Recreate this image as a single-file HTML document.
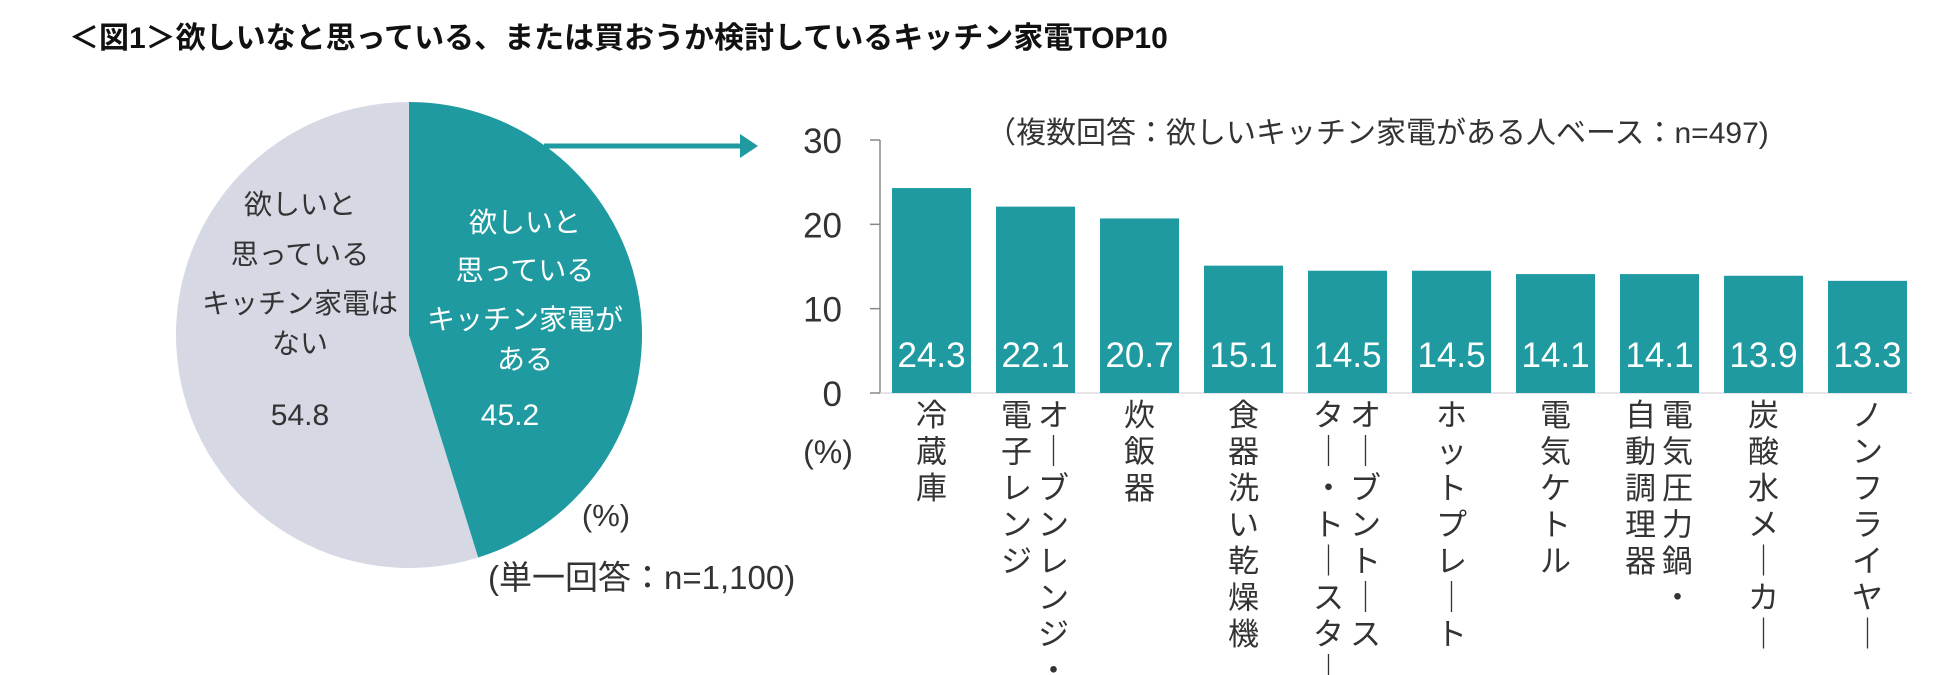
<!DOCTYPE html>
<html><head><meta charset="utf-8">
<style>
html,body{margin:0;padding:0;background:#fff;}
body{width:1950px;height:675px;overflow:hidden;position:relative;font-family:"Liberation Sans","Noto Sans CJK JP",sans-serif;}
svg{position:absolute;left:0;top:0;}
</style></head>
<body>
<svg id="chart" width="1950" height="675" viewBox="0 0 1950 675">
<text x="69" y="48" font-size="30" font-weight="bold" fill="#111" font-family="Liberation Sans, Noto Sans CJK JP, sans-serif">＜図1＞欲しいなと思っている、または買おうか検討しているキッチン家電TOP10</text>
</svg>
<script>
const pieLabels = ["欲しいと思っているキッチン家電はない","欲しいと思っているキッチン家電がある"];
const pieValues = [54.8, 45.2];
const categories = ["冷蔵庫","オーブンレンジ・|電子レンジ","炊飯器","食器洗い乾燥機","オーブントース|ター・トースター","ホットプレート","電気ケトル","電気圧力鍋・|自動調理器","炭酸水メーカー","ノンフライヤー"];
const values = [24.3, 22.1, 20.7, 15.1, 14.5, 14.5, 14.1, 14.1, 13.9, 13.3];
const yTicks = [0, 10, 20, 30];

const NS = "http://www.w3.org/2000/svg";
const svg = document.getElementById("chart");
const FONT = "Liberation Sans, Noto Sans CJK JP, sans-serif";
function mk(tag, attrs, parent){const e=document.createElementNS(NS,tag);for(const k in attrs)e.setAttribute(k,attrs[k]);(parent||svg).appendChild(e);return e;}

// pie
const cx=409, cy=335, r=233;
const total = pieValues[0]+pieValues[1];
const tealFrac = pieValues[1]/total;
const ang = tealFrac*2*Math.PI;
const ex = cx + r*Math.sin(ang), ey = cy - r*Math.cos(ang);
const grey = mk("path",{d:`M${cx},${cy} L${ex},${ey} A${r},${r} 0 ${(1-tealFrac)>0.5?1:0} 1 ${cx},${cy-r} Z`,fill:"#d6d9e4"});


const teal = mk("path",{d:`M${cx},${cy} L${cx},${cy-r} A${r},${r} 0 ${tealFrac>0.5?1:0} 1 ${ex},${ey} Z`,fill:"#1e9aa0"});



function lines(x, ys, arr, fill, name){
  arr.forEach((t,i)=>{const e=mk("text",{x:x,y:ys[i],"font-size":28,fill:fill,"text-anchor":"middle","font-family":FONT});e.textContent=t;
  
  });
}
lines(300,[214,264,313,353],["欲しいと","思っている","キッチン家電は","ない"],"#333","pie-label-none");
lines(525,[232,280,329,369],["欲しいと","思っている","キッチン家電が","ある"],"#fff","pie-label-some");
const v1=mk("text",{x:300,y:425,"font-size":30,fill:"#333","text-anchor":"middle","font-family":FONT});v1.textContent=pieValues[0].toFixed(1);


const v2=mk("text",{x:510,y:425,"font-size":30,fill:"#fff","text-anchor":"middle","font-family":FONT});v2.textContent=pieValues[1].toFixed(1);


const pp=mk("text",{x:606,y:526,"font-size":31,fill:"#333","text-anchor":"middle","font-family":FONT});pp.textContent="(%)";


const pn=mk("text",{x:488,y:589,"font-size":33,fill:"#333","font-family":FONT});pn.textContent="(単一回答：n=1,100)";



// arrow
const arr=mk("g",{});


mk("line",{x1:544,y1:146,x2:742,y2:146,stroke:"#1e9aa0","stroke-width":5},arr);
mk("polygon",{points:"740,134 758,146 740,158",fill:"#1e9aa0"},arr);

// bar chart
const x0=880, y0=393, yTop=140, yMax=30;
const ys = v => y0 - (v/yMax)*(y0-yTop);
const pitch=104, bw=79, bx0=892;
const ax=mk("path",{d:`M${x0},${yTop} V${y0}`,stroke:"#888","stroke-width":1.5,fill:"none"});


yTicks.forEach(t=>{
  const tl=mk("line",{x1:x0-10,x2:x0,y1:ys(t),y2:ys(t),stroke:"#888","stroke-width":1.5});
  
  
  const tx=mk("text",{x:842,y:ys(t)+13,"font-size":35,fill:"#333","text-anchor":"end","font-family":FONT});tx.textContent=t;
  
  
});
const bl=mk("line",{x1:x0,x2:1912,y1:y0,y2:y0,stroke:"#ccc","stroke-width":1});


const yu=mk("text",{x:828,y:463,"font-size":32,fill:"#333","text-anchor":"middle","font-family":FONT});yu.textContent="(%)";


const sub=mk("text",{x:986,y:143,"font-size":30,fill:"#333","font-family":FONT});sub.textContent="（複数回答：欲しいキッチン家電がある人ベース：n=497)";



values.forEach((v,i)=>{
  const x=bx0+i*pitch;
  const b=mk("rect",{x:x,y:ys(v),width:bw,height:y0-ys(v),fill:"#1e9aa0"});
  
  
  const t=mk("text",{x:x+bw/2,y:367,"font-size":35,fill:"#fff","text-anchor":"middle","font-family":FONT});t.textContent=v.toFixed(1);
  
  
  const cols=categories[i].split("|");
  const cxm=x+bw/2;
  cols.forEach((c,j)=>{
    const colX = cols.length===1 ? cxm : cxm + (j===0?18:-19);
    [...c].forEach((ch,k)=>{
      const isLong = ch==="ー";
      const e=mk("text",{x:colX,y:426+k*36.5,"font-size":31,fill:"#333","text-anchor":"middle","font-family":FONT});
      e.textContent = isLong ? "｜" : ch;
      
      
    });
  });
});
</script>
</body></html>
